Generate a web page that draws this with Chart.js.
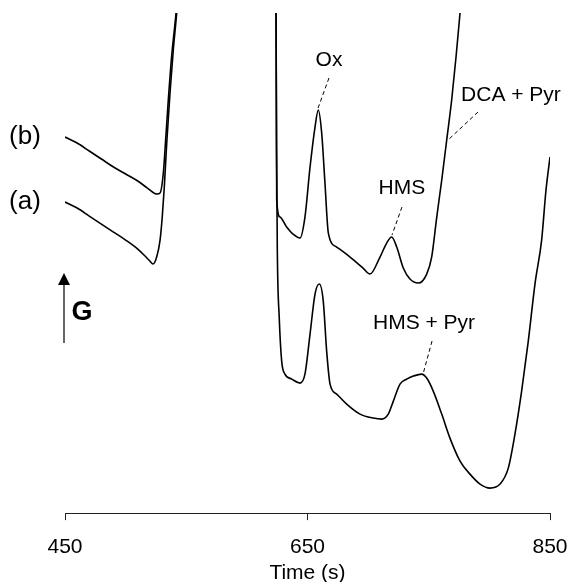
<!DOCTYPE html>
<html>
<head>
<meta charset="utf-8">
<style>
  html, body { margin: 0; padding: 0; background: #fff; }
  #wrap { width: 571px; height: 582px; }
</style>
<script src="https://cdn.jsdelivr.net/npm/chart.js@4"></script>
</head>
<body>
<div id="wrap"><canvas id="myChart" width="571" height="582"></canvas></div>
<script>
// time axis (s) and the two detector traces
// null marks the break in each recording
const tickTimes = [450, 650, 850];

const timeA = [450, 460, 470, 480, 490, 500, 510, 516, 520, 522.6, 525.6, 528.4, 530.2, 531.9, 533.9, 536.6, 539.3, 542.1, 544,
  580,
  624.0, 624.5, 625.1, 626.7, 628.7, 631.4, 637.0, 643.8, 647.9, 652.1,
  656.2, 659.7, 663.0, 665.8, 668.6, 674.1, 682.3, 693.3, 704.3, 711.2,
  716.6, 720.8, 726.3, 731.8, 737.3, 744.2, 748.3, 753.7, 760.7, 767.5,
  775.8, 784.0, 792.3, 800.5, 808.8, 815.6, 821.1, 826.6, 832.1, 837.6,
  843.1, 846.7, 850];
const signalA = [31.1, 30.5, 29.7, 28.9, 28.1, 27.3, 26.4, 25.7, 25.2, 24.9, 25.6, 27.3, 29.6, 32.6, 37.0, 42.0, 46.3, 50.0, 53.3,
  null,
  52.3, 36.3, 26.3, 19.5, 15.2, 13.9, 13.4, 13.0, 13.9, 17.9,
  21.9, 22.9, 21.2, 16.2, 12.9, 11.9, 10.9, 9.9, 9.5, 9.4,
  9.9, 11.2, 12.9, 13.4, 13.7, 13.9, 13.5, 12.2, 9.9, 7.5,
  5.2, 3.9, 2.9, 2.5, 2.9, 4.5, 7.9, 12.2, 17.2, 22.9,
  27.3, 32.3, 35.6];

const timeB = [450, 460, 470, 480, 490, 500, 510, 518, 525.9, 528.4, 531.1, 533, 535.2, 537.9, 541.6, 543.5,
  580,
  624.0, 624.3, 624.6, 627.3, 632.8, 638.0, 643.8, 647.9, 652.1, 656.2,
  658.9, 661.7, 664.4, 667.2, 674.1, 685.1, 695.8, 701.5, 709.8, 715.3,
  719.4, 723.6, 729.0, 734.5, 741.4, 748.3, 752.4, 756.6, 760.7, 764.8,
  768.9, 772.5, 775.8, 777.4];
const signalB = [37.6, 37.0, 36.2, 35.4, 34.6, 33.9, 33.2, 32.5, 31.9, 32.0, 34.0, 37.3, 41.3, 45.6, 50.0, 52.8,
  null,
  52.3, 41.3, 31.3, 29.6, 28.6, 27.9, 27.5, 29.6, 34.6, 38.6,
  40.3, 38.0, 33.0, 28.0, 26.6, 25.6, 24.5, 23.9, 25.6, 27.0,
  27.6, 26.6, 24.5, 23.4, 23.0, 23.9, 25.6, 29.6, 33.3, 37.3,
  41.3, 45.6, 50.0, 52.3];

const traceNames = ['(a)', '(b)'];
const peakNames = ['Ox', 'HMS', 'DCA + Pyr', 'HMS + Pyr'];

const toPoints = (ts, vs) => ts.map((t, i) => ({ x: t, y: vs[i] }));

const FONT = '"Liberation Sans", Arial, sans-serif';

// where the peak names and their dashed leaders sit, in (time, signal)
const peakMarks = [
  { text: [667.7, 45.3], from: [667.7, 43.5], to: [658.7, 40.5] },
  { text: [727.9, 32.5], from: [727.9, 30.6], to: [719.7, 27.8] },
  { text: [817.8, 41.8], from: [790.6, 40.1], to: [765.9, 37.3] },
  { text: [746.1, 19.0], from: [752.7, 17.2], to: [745.3, 13.9] }
];

const annotate = {
  id: 'annotate',
  afterDraw(chart) {
    const { ctx, chartArea } = chart;
    const x = chart.scales.x, y = chart.scales.y;
    ctx.save();
    ctx.fillStyle = '#000';
    ctx.strokeStyle = '#000';
    ctx.textAlign = 'center';
    ctx.textBaseline = 'middle';

    // peak labels + dashed leaders
    ctx.font = '21px ' + FONT;
    peakMarks.forEach((m, i) => {
      ctx.fillText(peakNames[i], x.getPixelForValue(m.text[0]), y.getPixelForValue(m.text[1]));
      ctx.beginPath();
      ctx.setLineDash([4, 3]);
      ctx.lineWidth = 1;
      ctx.moveTo(x.getPixelForValue(m.from[0]), y.getPixelForValue(m.from[1]));
      ctx.lineTo(x.getPixelForValue(m.to[0]), y.getPixelForValue(m.to[1]));
      ctx.stroke();
    });
    ctx.setLineDash([]);

    // trace names, next to where each trace starts
    ctx.font = '26px ' + FONT;
    ctx.fillText(traceNames[0], chartArea.left - 40, y.getPixelForValue(signalA[0]));
    ctx.fillText(traceNames[1], chartArea.left - 40, y.getPixelForValue(signalB[0]));

    // G arrow
    const ax = chartArea.left - 1;
    const yLo = y.getPixelForValue(17), yHi = y.getPixelForValue(24);
    ctx.lineWidth = 1.2;
    ctx.beginPath();
    ctx.moveTo(ax, yLo);
    ctx.lineTo(ax, yHi + 10);
    ctx.stroke();
    ctx.beginPath();
    ctx.moveTo(ax, yHi);
    ctx.lineTo(ax - 6, yHi + 12);
    ctx.lineTo(ax + 6, yHi + 12);
    ctx.closePath();
    ctx.fill();
    ctx.font = 'bold 27px ' + FONT;
    ctx.fillText('G', ax + 18, (yLo + yHi) / 2 + 4);
    ctx.restore();
  }
};

const ctx = document.getElementById('myChart');

new Chart(ctx, {
  type: 'line',
  data: {
    datasets: [
      { label: 'a', data: toPoints(timeA, signalA) },
      { label: 'b', data: toPoints(timeB, signalB) }
    ]
  },
  options: {
    responsive: false,
    animation: false,
    spanGaps: false,
    layout: { padding: { left: 65, right: 21, top: 13, bottom: 0 } },
    elements: {
      line: { borderColor: '#000', borderWidth: 1.6, cubicInterpolationMode: 'monotone' },
      point: { radius: 0 }
    },
    plugins: { legend: { display: false }, tooltip: { enabled: false } },
    scales: {
      x: {
        type: 'linear',
        min: 450,
        max: 850,
        afterBuildTicks: (s) => { s.ticks = tickTimes.map(v => ({ value: v })); },
        ticks: { color: '#000', font: { family: FONT, size: 21, lineHeight: 2.29 }, padding: 3, maxRotation: 0 },
        grid: { drawOnChartArea: false, tickLength: 7, color: '#222' },
        border: { color: '#222', width: 1 },
        title: { display: true, text: 'Time (s)', color: '#000', font: { family: FONT, size: 21, lineHeight: 0.8 }, padding: { top: -9, bottom: 0 } }
      },
      y: { display: false, min: 0, max: 50 }
    }
  },
  plugins: [annotate]
});
</script>
</body>
</html>
